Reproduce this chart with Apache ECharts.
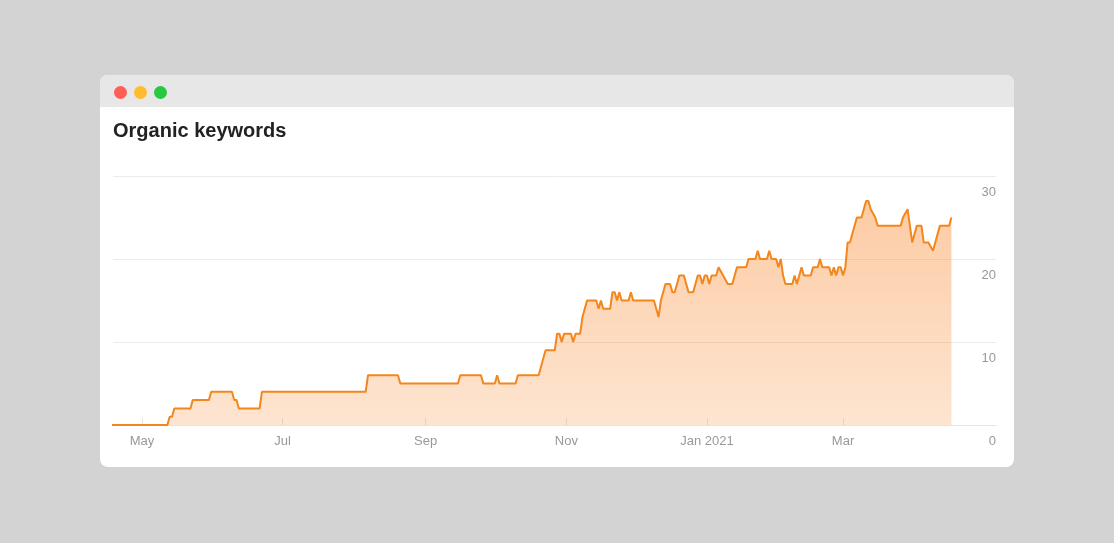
<!DOCTYPE html>
<html>
<head>
<meta charset="utf-8">
<script src="https://cdn.jsdelivr.net/npm/echarts@6/dist/echarts.min.js"></script>
<style>
  html, body { margin: 0; padding: 0; width: 1114px; height: 543px; background: #d3d3d3; overflow: hidden; }
  #card { position: absolute; left: 100px; top: 75px; width: 914px; height: 392px; background: #fff; border-radius: 8px; overflow: hidden; }
  #bar { position: absolute; left: 0; top: 0; width: 914px; height: 32px; background: #e7e7e7; }
  .dot { position: absolute; top: 10.5px; width: 13px; height: 13px; border-radius: 50%; }
  #chart { position: absolute; left: 0; top: 0; width: 1114px; height: 543px; }
</style>
</head>
<body>
<div id="card">
  <div id="bar"></div>
  <div class="dot" style="left:13.5px;background:#fe5f57"></div>
  <div class="dot" style="left:33.5px;background:#febc2e"></div>
  <div class="dot" style="left:53.5px;background:#28c840"></div>
</div>
<div id="chart"></div>
<script>
const titleText = 'Organic keywords';

const dates = [
  '2020-04-18','2020-05-12','2020-05-13','2020-05-14','2020-05-15','2020-05-22','2020-05-23','2020-05-30','2020-05-31',
  '2020-06-09','2020-06-10','2020-06-11','2020-06-12','2020-06-21','2020-06-22',
  '2020-08-06','2020-08-07','2020-08-20','2020-08-21',
  '2020-09-15','2020-09-16','2020-09-25','2020-09-26',
  '2020-10-01','2020-10-02','2020-10-03','2020-10-10','2020-10-11','2020-10-20','2020-10-21','2020-10-22','2020-10-23','2020-10-27','2020-10-28','2020-10-29','2020-10-30','2020-10-31',
  '2020-11-03','2020-11-04','2020-11-05','2020-11-07','2020-11-08','2020-11-09','2020-11-10','2020-11-14','2020-11-15','2020-11-16','2020-11-17','2020-11-20','2020-11-21','2020-11-22','2020-11-23','2020-11-24','2020-11-25','2020-11-28','2020-11-29','2020-11-30',
  '2020-12-09','2020-12-10','2020-12-11','2020-12-12','2020-12-13','2020-12-14','2020-12-16','2020-12-17','2020-12-18','2020-12-19','2020-12-20','2020-12-22','2020-12-23','2020-12-24','2020-12-26','2020-12-27','2020-12-28','2020-12-29','2020-12-30','2020-12-31',
  '2021-01-01','2021-01-02','2021-01-03','2021-01-05','2021-01-06','2021-01-08','2021-01-10','2021-01-12','2021-01-13','2021-01-14','2021-01-18','2021-01-19','2021-01-22','2021-01-23','2021-01-24','2021-01-27','2021-01-28','2021-01-29','2021-01-31',
  '2021-02-01','2021-02-02','2021-02-03','2021-02-04','2021-02-07','2021-02-08','2021-02-09','2021-02-10','2021-02-11','2021-02-12','2021-02-15','2021-02-16','2021-02-18','2021-02-19','2021-02-20','2021-02-23','2021-02-24','2021-02-25','2021-02-26','2021-02-27','2021-02-28',
  '2021-03-01','2021-03-02','2021-03-03','2021-03-04','2021-03-05','2021-03-06','2021-03-07','2021-03-09','2021-03-10','2021-03-11','2021-03-12','2021-03-13','2021-03-15','2021-03-16','2021-03-26','2021-03-27','2021-03-29','2021-03-30','2021-03-31',
  '2021-04-01','2021-04-02','2021-04-04','2021-04-05','2021-04-07','2021-04-09','2021-04-10','2021-04-11','2021-04-12','2021-04-16','2021-04-17'
];

const values = [
  0,0,1,1,2,2,3,3,4,
  4,3,3,2,2,4,
  4,6,6,5,
  5,6,6,5,
  5,6,5,5,6,6,7,8,9,9,11,11,10,11,
  11,10,11,11,13,14,15,15,14,15,14,14,16,16,15,16,15,15,16,15,
  15,14,13,15,16,17,17,16,16,17,18,18,17,16,16,17,18,18,17,18,
  18,17,18,18,19,18,17,17,18,19,19,20,20,21,20,20,21,20,20,
  19,20,18,17,17,18,17,18,19,18,18,19,19,20,19,19,18,19,18,19,19,
  18,19,22,22,23,24,25,25,26,27,27,26,25,24,24,25,26,24,22,
  23,24,24,22,22,21,22,23,24,24,25
];

const tickDates = ['2020-05-01','2020-07-01','2020-09-01','2020-11-01','2021-01-01','2021-03-01'];
const tickLabels = ['May','Jul','Sep','Nov','Jan 2021','Mar'];
const yMin = 0, yMax = 30, yStep = 10;
const xStart = '2020-04-18T10:00:00';
const xEnd = '2021-05-06T08:00:00';

const ts = s => new Date(s.length > 10 ? s : s + 'T00:00:00').getTime();
const tickTs = tickDates.map(ts);
const seriesData = dates.map((d, i) => [ts(d), values[i]]);

const chart = echarts.init(document.getElementById('chart'), null, { renderer: 'canvas' });
const font = '"Liberation Sans", Arial, Helvetica, sans-serif';
chart.setOption({
  animation: false,
  backgroundColor: 'transparent',
  title: {
    text: titleText,
    left: 113,
    top: 121,
    padding: 0,
    textStyle: { fontFamily: font, fontSize: 20, fontWeight: 'bold', color: '#222222' }
  },
  grid: { left: 113, right: 118, top: 176, bottom: 118 },
  xAxis: {
    type: 'value',
    min: ts(xStart),
    max: ts(xEnd),
    axisLine: { show: true, lineStyle: { color: '#e4e4e4', width: 1 } },
    axisTick: { show: true, inside: true, length: 7, customValues: tickTs, lineStyle: { color: '#e4e4e4' } },
    axisLabel: {
      customValues: tickTs,
      formatter: function (v) {
        let best = 0, bd = Infinity;
        tickTs.forEach((t, i) => { const dd = Math.abs(t - v); if (dd < bd) { bd = dd; best = i; } });
        return tickLabels[best];
      },
      color: '#999999', fontSize: 13, fontFamily: font, margin: 10
    },
    splitLine: { show: false }
  },
  yAxis: {
    type: 'value',
    position: 'right',
    min: yMin, max: yMax, interval: yStep,
    axisLine: { show: false },
    axisTick: { show: false },
    splitLine: { show: true, lineStyle: { color: '#ebebeb', width: 1 } },
    axisLabel: {
      inside: true, margin: 0, verticalAlign: 'top', padding: [10, 0, 0, 0],
      color: '#999999', fontSize: 13, fontFamily: font
    }
  },
  series: [{
    type: 'line',
    data: seriesData,
    showSymbol: false,
    symbol: 'none',
    lineStyle: { color: '#f3861c', width: 2 },
    itemStyle: { color: '#f3861c' },
    areaStyle: {
      color: new echarts.graphic.LinearGradient(0, 0, 0, 1, [
        { offset: 0, color: 'rgba(249,142,55,0.65)' },
        { offset: 1, color: 'rgba(249,142,55,0.33)' }
      ])
    },
    z: 2
  }]
});
</script>
</body>
</html>
